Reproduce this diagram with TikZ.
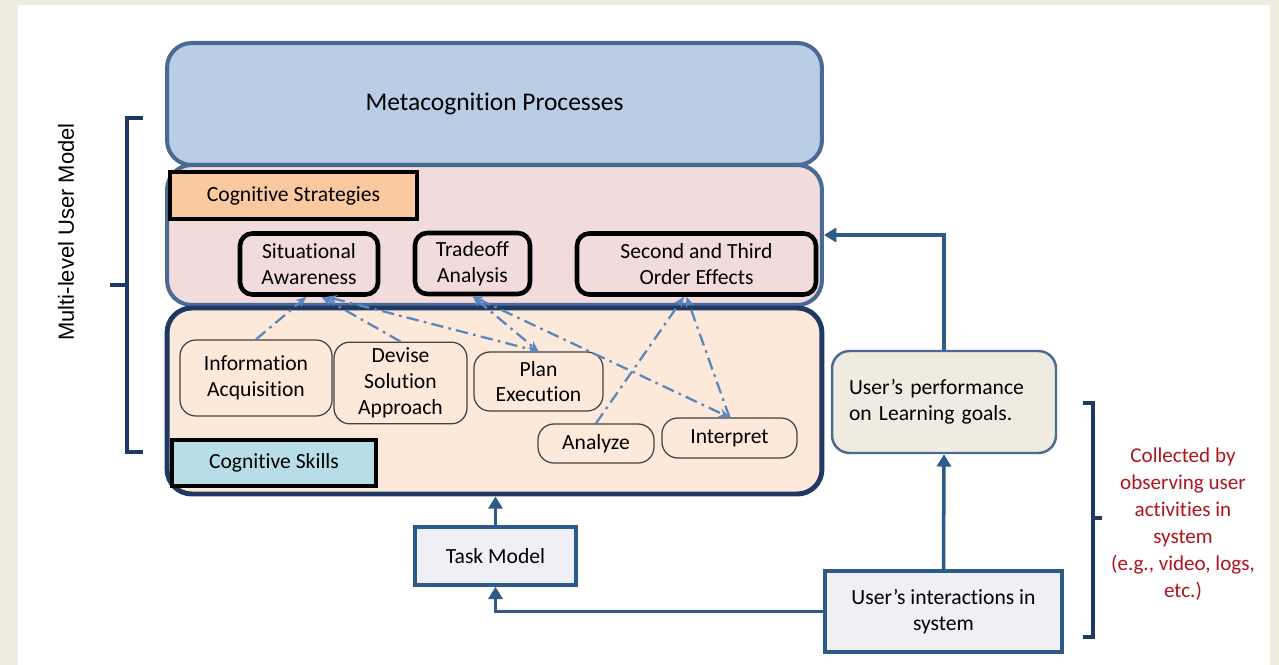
\documentclass[tikz,border=0pt]{standalone}
\usepackage{fontspec}
\setmainfont{Carlito}[Ligatures=NoCommon]
\newfontfamily\arialfont{Liberation Sans}
\usetikzlibrary{arrows.meta,positioning}

\definecolor{pagebeige}{HTML}{EEECE1}
\definecolor{metablue}{HTML}{B9CDE5}
\definecolor{steelline}{HTML}{4A6A94}
\definecolor{stratpink}{HTML}{F2DCDB}
\definecolor{skillpeach}{HTML}{FDE9D9}
\definecolor{navyline}{HTML}{1F3864}
\definecolor{orangelbl}{HTML}{FAC9A0}
\definecolor{cyanlbl}{HTML}{B7DEE8}
\definecolor{dotblue}{HTML}{5B87BF}
\definecolor{flowblue}{HTML}{2E5A8A}
\definecolor{taskfill}{HTML}{EEF0F5}
\definecolor{perffill}{HTML}{EEECE1}
\definecolor{notered}{HTML}{B0141E}

\tikzset{
  txt/.style={font=\fontsize{12.3}{14.7}\selectfont},
  layer/.style={rounded corners=14pt, line width=2.3pt, minimum width=13.1cm},
  lblbox/.style={txt, draw=black, line width=2.4pt, minimum height=0.93cm},
  stratbox/.style={txt, draw=black, line width=2.6pt, rounded corners=7pt,
    fill=stratpink, align=center, minimum height=1.22cm},
  skillbox/.style={txt, draw=black!75, line width=0.7pt, rounded corners=9pt,
    fill=skillpeach, align=center},
  link/.style={dotblue, line width=1.3pt,
    dash pattern=on 7pt off 3pt on 1.5pt off 3pt},
  flow/.style={flowblue, line width=2pt, -{Triangle[length=7pt,width=8pt]}},
  sysbox/.style={txt, draw=flowblue, line width=2pt, fill=taskfill, align=center},
  brace/.style={navyline, line width=2.2pt}
}

\begin{document}
\begin{tikzpicture}[x=0.02cm, y=-0.02cm]

    % page
    \fill[pagebeige] (0,0) rectangle (1279,665);
    \fill[white] (18,5) rectangle (1270,665);
    \useasboundingbox (0,0) rectangle (1279,665);

    % Layers
    \node[layer, draw=steelline, fill=metablue, minimum height=2.44cm,
      font=\fontsize{14.5}{17}\selectfont] (meta) at (494.5,104) {Metacognition Processes};
    \node[layer, draw=steelline, fill=stratpink, minimum height=2.8cm] (stratlayer) at (494.5,235) {};
    \node[layer, draw=navyline, fill=skillpeach, line width=2.8pt, minimum height=3.72cm] (skilllayer) at (494.5,401) {};

    % Labels of the layers
    \node[lblbox, fill=orangelbl, minimum width=4.94cm] (stratlbl) at (293.5,195.5) {Cognitive Strategies};
    \node[lblbox, fill=cyanlbl, minimum width=4.08cm] (skilllbl) at (274,463) {Cognitive Skills};

    % Cognitive strategies
    \node[stratbox, minimum width=2.76cm] (sa) at (309,264) {Situational\\Awareness};
    \node[stratbox, minimum width=2.30cm] (ta) at (472.5,263.5) {Tradeoff\\Analysis};
    \node[stratbox, minimum width=4.78cm] (st) at (696.5,264) {Second and Third\\Order Effects};

    % Cognitive skills
    \node[skillbox, minimum width=3.04cm, minimum height=1.52cm] (ia) at (256,378) {Information\\Acquisition};
    \node[skillbox, minimum width=2.66cm, minimum height=1.60cm] (ds) at (400.5,383) {Devise\\Solution\\Approach};
    \node[skillbox, minimum width=2.58cm, minimum height=1.18cm] (pe) at (538.5,381.5) {Plan\\Execution};
    \node[skillbox, minimum width=2.32cm, minimum height=0.78cm] (an) at (596,443.5) {Analyze};
    \node[skillbox, minimum width=2.70cm, minimum height=0.80cm] (in) at (729.5,438) {Interpret};

    % Outside boxes
    \node[sysbox, minimum width=3.22cm, minimum height=1.16cm] (task) at (495.5,556) {Task Model};
    \node[sysbox, minimum width=4.74cm, minimum height=1.62cm] (inter) at (943.5,611.5) {User’s interactions in\\system};
    \node[txt, draw=steelline, line width=1.4pt, rounded corners=10pt, fill=perffill,
      minimum width=4.48cm, minimum height=2.04cm, text width=3.8cm, align=left] (perf) at (944,402)
      {User’s performance\\on Learning goals.};

    % Skills to strategies
    \draw[link, -{Stealth[length=6pt,width=5pt]}] (ia.north) -- ([xshift=-0.05cm]sa.south);
    \draw[link, -{Stealth[length=6pt,width=5pt]}] (ds.north) -- ([xshift=0.25cm]sa.south);
    \draw[link, {Stealth[length=6pt,width=5pt]}-{Stealth[length=6pt,width=5pt]}] ([xshift=0.35cm]sa.south) -- (pe.north);
    \draw[link, {Stealth[length=6pt,width=5pt]}-{Stealth[length=6pt,width=5pt]}] (ta.south) -- (pe.north);
    \draw[link, {Stealth[length=6pt,width=5pt]}-{Stealth[length=6pt,width=5pt]}] (ta.south) -- (in.north);
    \draw[link, -{Stealth[length=6pt,width=5pt]}] (an.north) -- ([xshift=-0.25cm]st.south);
    \draw[link, -{Stealth[length=6pt,width=5pt]}] (in.north) -- ([xshift=-0.2cm]st.south);

    % Flow
    \draw[flow] (task.north) -- (task.north |- skilllayer.south);
    \draw[flow] (inter.west) -| (task.south);
    \draw[flow] (inter.north) -- (perf.south);
    \draw[flow] (perf.north) |- (stratlayer.east);

    % Brackets
    \draw[brace] (143,118) -- (127,118) -- (127,452) -- (143,452);
    \draw[brace] (127,285) -- (110,285);
    \node[rotate=90, font=\arialfont\fontsize{12.5}{15}\selectfont] (umodel) at (66,232) {Multi-level User Model};

    \draw[brace] (1083,403) -- (1093,403) -- (1093,637) -- (1083,637);
    \draw[brace] (1093,518) -- (1102,518);
    \node[txt, text=notered, align=center, font=\fontsize{12}{15.3}\selectfont] (collect) at (1183,524)
      {Collected by\\observing user\\activities in\\system\\(e.g., video, logs,\\etc.)};

\end{tikzpicture}
\end{document}
